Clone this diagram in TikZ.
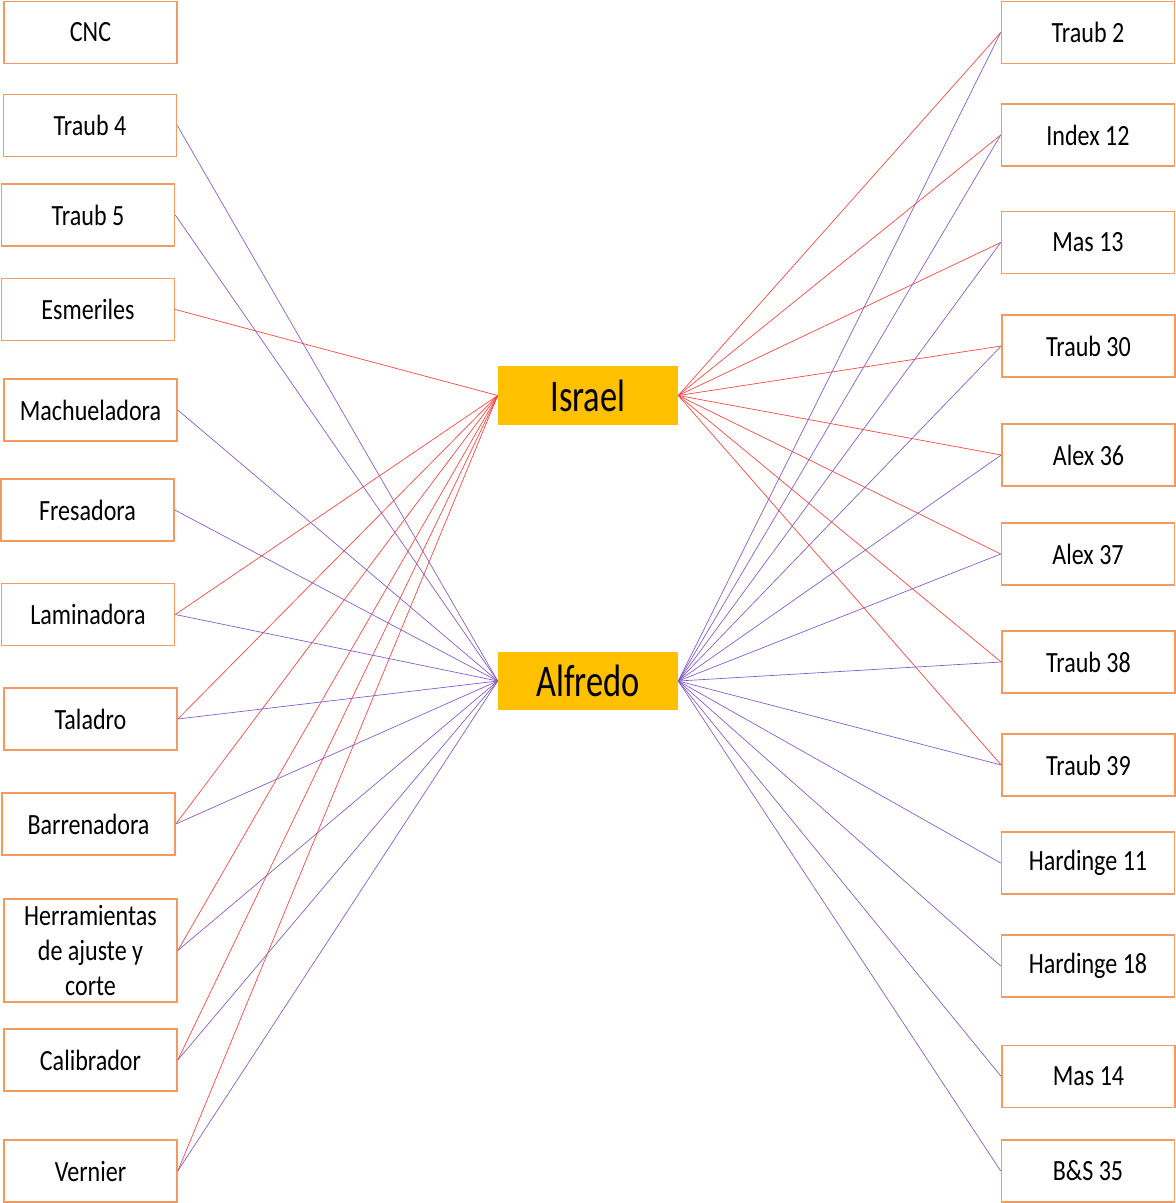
\documentclass[tikz,border=0pt]{standalone}
\usepackage{fontspec}
\setmainfont{Carlito}[FakeStretch=0.82]
\newfontfamily\hubfont{Carlito}[FakeStretch=0.76]
\definecolor{boxorange}{HTML}{F29A60}
\definecolor{hubyellow}{HTML}{FFC000}
\definecolor{linkred}{HTML}{FF4040}
\definecolor{linkpurple}{HTML}{8458C4}
\tikzset{
  box/.style={draw=boxorange, line width=1.2pt, fill=white, inner sep=0pt,
    minimum width=129.75pt, minimum height=46.5pt, align=center,
    font=\fontsize{22}{26}\selectfont},
  hub/.style={fill=hubyellow, inner sep=0pt, minimum width=135pt, minimum height=44pt,
    font=\hubfont\fontsize{34}{36}\selectfont},
  redlink/.style={draw=linkred, line width=0.5pt},
  purplelink/.style={draw=linkpurple, line width=0.5pt}
}
\begin{document}
\begin{tikzpicture}[x=0.75pt,y=-0.75pt]
\useasboundingbox (0,0) rectangle (1176,1203);
% left column
\node[box] (cnc)  at (90.5,32.5)  {CNC};
\node[box] (t4)   at (90,125.5)   {Traub 4};
\node[box] (t5)   at (88,215)     {Traub 5};
\node[box] (esm)  at (88,309.5)   {Esmeriles};
\node[box] (mach) at (90.5,410)   {Machueladora};
\node[box] (fres) at (87.5,510)   {Fresadora};
\node[box] (lam)  at (88,614.5)   {Laminadora};
\node[box] (tal)  at (90.5,719)   {Taladro};
\node[box] (barr) at (88.5,824)   {Barrenadora};
\node[box, minimum height=77.25pt] (herr) at (90.5,950.5) {Herramientas\\de ajuste y\\corte};
\node[box] (cal)  at (90.5,1060)  {Calibrador};
\node[box] (vern) at (90.5,1171)  {Vernier};
% right column
\node[box] (t2)   at (1088,32.5)  {Traub 2};
\node[box] (i12)  at (1088,135)   {Index 12};
\node[box] (m13)  at (1088,242.5) {Mas 13};
\node[box] (t30)  at (1088.5,346) {Traub 30};
\node[box] (a36)  at (1088.5,455) {Alex 36};
\node[box] (a37)  at (1088,554)   {Alex 37};
\node[box] (t38)  at (1088.5,662) {Traub 38};
\node[box] (t39)  at (1088.5,765) {Traub 39};
\node[box] (h11)  at (1088,863)   {Hardinge 11};
\node[box] (h18)  at (1088,966)   {Hardinge 18};
\node[box] (m14)  at (1088.5,1076.5) {Mas 14};
\node[box] (bs35) at (1088,1171)  {B\&S 35};
% hubs
\node[hub] (isr) at (588,395.5) {Israel};
\node[hub] (alf) at (588,681)   {Alfredo};
% Israel links
\foreach \n in {esm,lam,tal,barr,herr,cal,vern}
  \draw[redlink] (\n.east) -- (isr.west);
\foreach \n in {t2,i12,m13,t30,a36,a37,t38,t39}
  \draw[redlink] (isr.east) -- (\n.west);
% Alfredo links
\foreach \n in {t4,t5,mach,fres,lam,tal,barr,herr,cal,vern}
  \draw[purplelink] (\n.east) -- (alf.west);
\foreach \n in {t2,i12,m13,t30,a36,a37,t38,t39,h11,h18,m14,bs35}
  \draw[purplelink] (alf.east) -- (\n.west);
\end{tikzpicture}
\end{document}
